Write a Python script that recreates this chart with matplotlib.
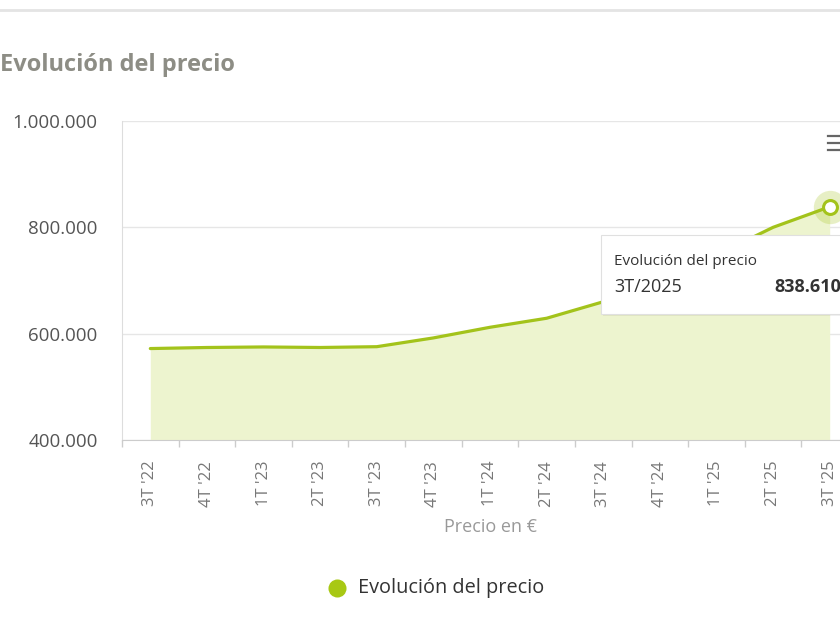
import matplotlib
matplotlib.use("Agg")
import matplotlib.pyplot as plt
from matplotlib.patches import Rectangle
from matplotlib.lines import Line2D
from matplotlib.ticker import FuncFormatter, FixedLocator

categories = ["3T '22", "4T '22", "1T '23", "2T '23", "3T '23", "4T '23", "1T '24",
              "2T '24", "3T '24", "4T '24", "1T '25", "2T '25", "3T '25"]
prices = [572000, 574000, 575000, 574000, 575500, 592000, 612000,
          629000, 660000, 700000, 748000, 800000, 838610]
y_ticks = [400000, 600000, 800000, 1000000]
series_name = "Evolución del precio"
tooltip_period = "3T/2025"
tooltip_value = "838.610"

LINE = "#a3c31b"
FILL = "#edf4cf"
FONT = ["Open Sans", "DejaVu Sans"]
NARROW = ["Liberation Sans Narrow", "Open Sans", "DejaVu Sans"]

fig = plt.figure(figsize=(8.4, 6.3), dpi=100)
fig.patch.set_facecolor("white")

W, H = 840, 630
def fx(px):
    return px / W
def fy(py):
    return 1 - py / H

ax = fig.add_axes([fx(122), fy(440), 736 / W, 319 / H])
x = list(range(len(categories)))
ax.fill_between(x, prices, y_ticks[0], color=FILL, lw=0, zorder=1)
ax.plot(x, prices, color=LINE, lw=2.3, solid_capstyle="round", zorder=3)
# highlighted last point
ax.plot([x[-1]], [prices[-1]], "o", ms=24, color=LINE, alpha=0.25, mec="none", zorder=4)
ax.plot([x[-1]], [prices[-1]], "o", ms=10, mfc="white", mec=LINE, mew=2.2, zorder=5)

ax.set_xlim(-0.5, len(categories) - 0.5)
ax.set_ylim(y_ticks[0], y_ticks[-1])
ax.set_yticks(y_ticks)
ax.yaxis.set_major_formatter(FuncFormatter(lambda v, p: f"{int(v):,}".replace(",", ".")))
ax.set_xticks(x)
ax.set_xticklabels(categories, rotation=90, fontsize=12, color="#777777", family=FONT)
ax.xaxis.set_minor_locator(FixedLocator([i - 0.5 for i in range(len(categories) + 1)]))
ax.tick_params(axis="x", which="major", length=0, pad=15)
ax.tick_params(axis="x", which="minor", length=5, color="#cccccc", width=1)
ax.tick_params(axis="y", length=0, pad=17.5, labelsize=13.5, labelcolor="#555555")
for lab in ax.get_yticklabels():
    lab.set_family(FONT)
ax.grid(axis="y", color="#e6e6e6", lw=1)
ax.set_axisbelow(True)
for s in ["top", "right"]:
    ax.spines[s].set_visible(False)
ax.spines["left"].set_color("#dddddd")
ax.spines["bottom"].set_color("#cccccc")
ax.set_facecolor("white")

# axis title
fig.text(fx(490), fy(527), "Precio en €", ha="center", va="center", fontsize=13,
         color="#999999", family=NARROW)

# chart title
fig.text(fx(0), fy(65), series_name, ha="left", va="center", fontsize=17,
         fontweight="bold", color="#8d8d85", family=NARROW)

# top divider
fig.add_artist(Line2D([0, 1], [fy(10), fy(10)], color="#e4e4e4", lw=2))

# menu icon
for yy in (136, 143, 150):
    fig.add_artist(Line2D([fx(828), fx(842)], [fy(yy), fy(yy)], color="#666666", lw=1.6))

# tooltip
shadow = Rectangle((fx(603), fy(316)), fx(300), (316 - 235) / H, transform=fig.transFigure,
                   facecolor="#000000", alpha=0.06, lw=0, zorder=10)
fig.add_artist(shadow)
box = Rectangle((fx(601), fy(314)), fx(300), (314 - 235) / H, transform=fig.transFigure,
                facecolor="white", edgecolor="#e0e0e0", lw=0.8, zorder=11)
fig.add_artist(box)
fig.text(fx(614), fy(261), series_name, ha="left", va="center", fontsize=11,
         color="#333333", family=FONT, zorder=12)
fig.text(fx(614), fy(287), tooltip_period, ha="left", va="center", fontsize=13,
         color="#333333", family=FONT, zorder=12)
fig.text(fx(841), fy(287), tooltip_value, ha="right", va="center", fontsize=13,
         fontweight="bold", color="#333333", family=FONT, zorder=12)

# legend
fig.add_artist(Line2D([fx(337)], [fy(588)], marker="o", ms=13, color="#a8c814", mec="none"))
fig.text(fx(358), fy(588), series_name, ha="left", va="center", fontsize=14.3,
         color="#333333", family=FONT)

fig.savefig("out.png", dpi=100, facecolor="white")
